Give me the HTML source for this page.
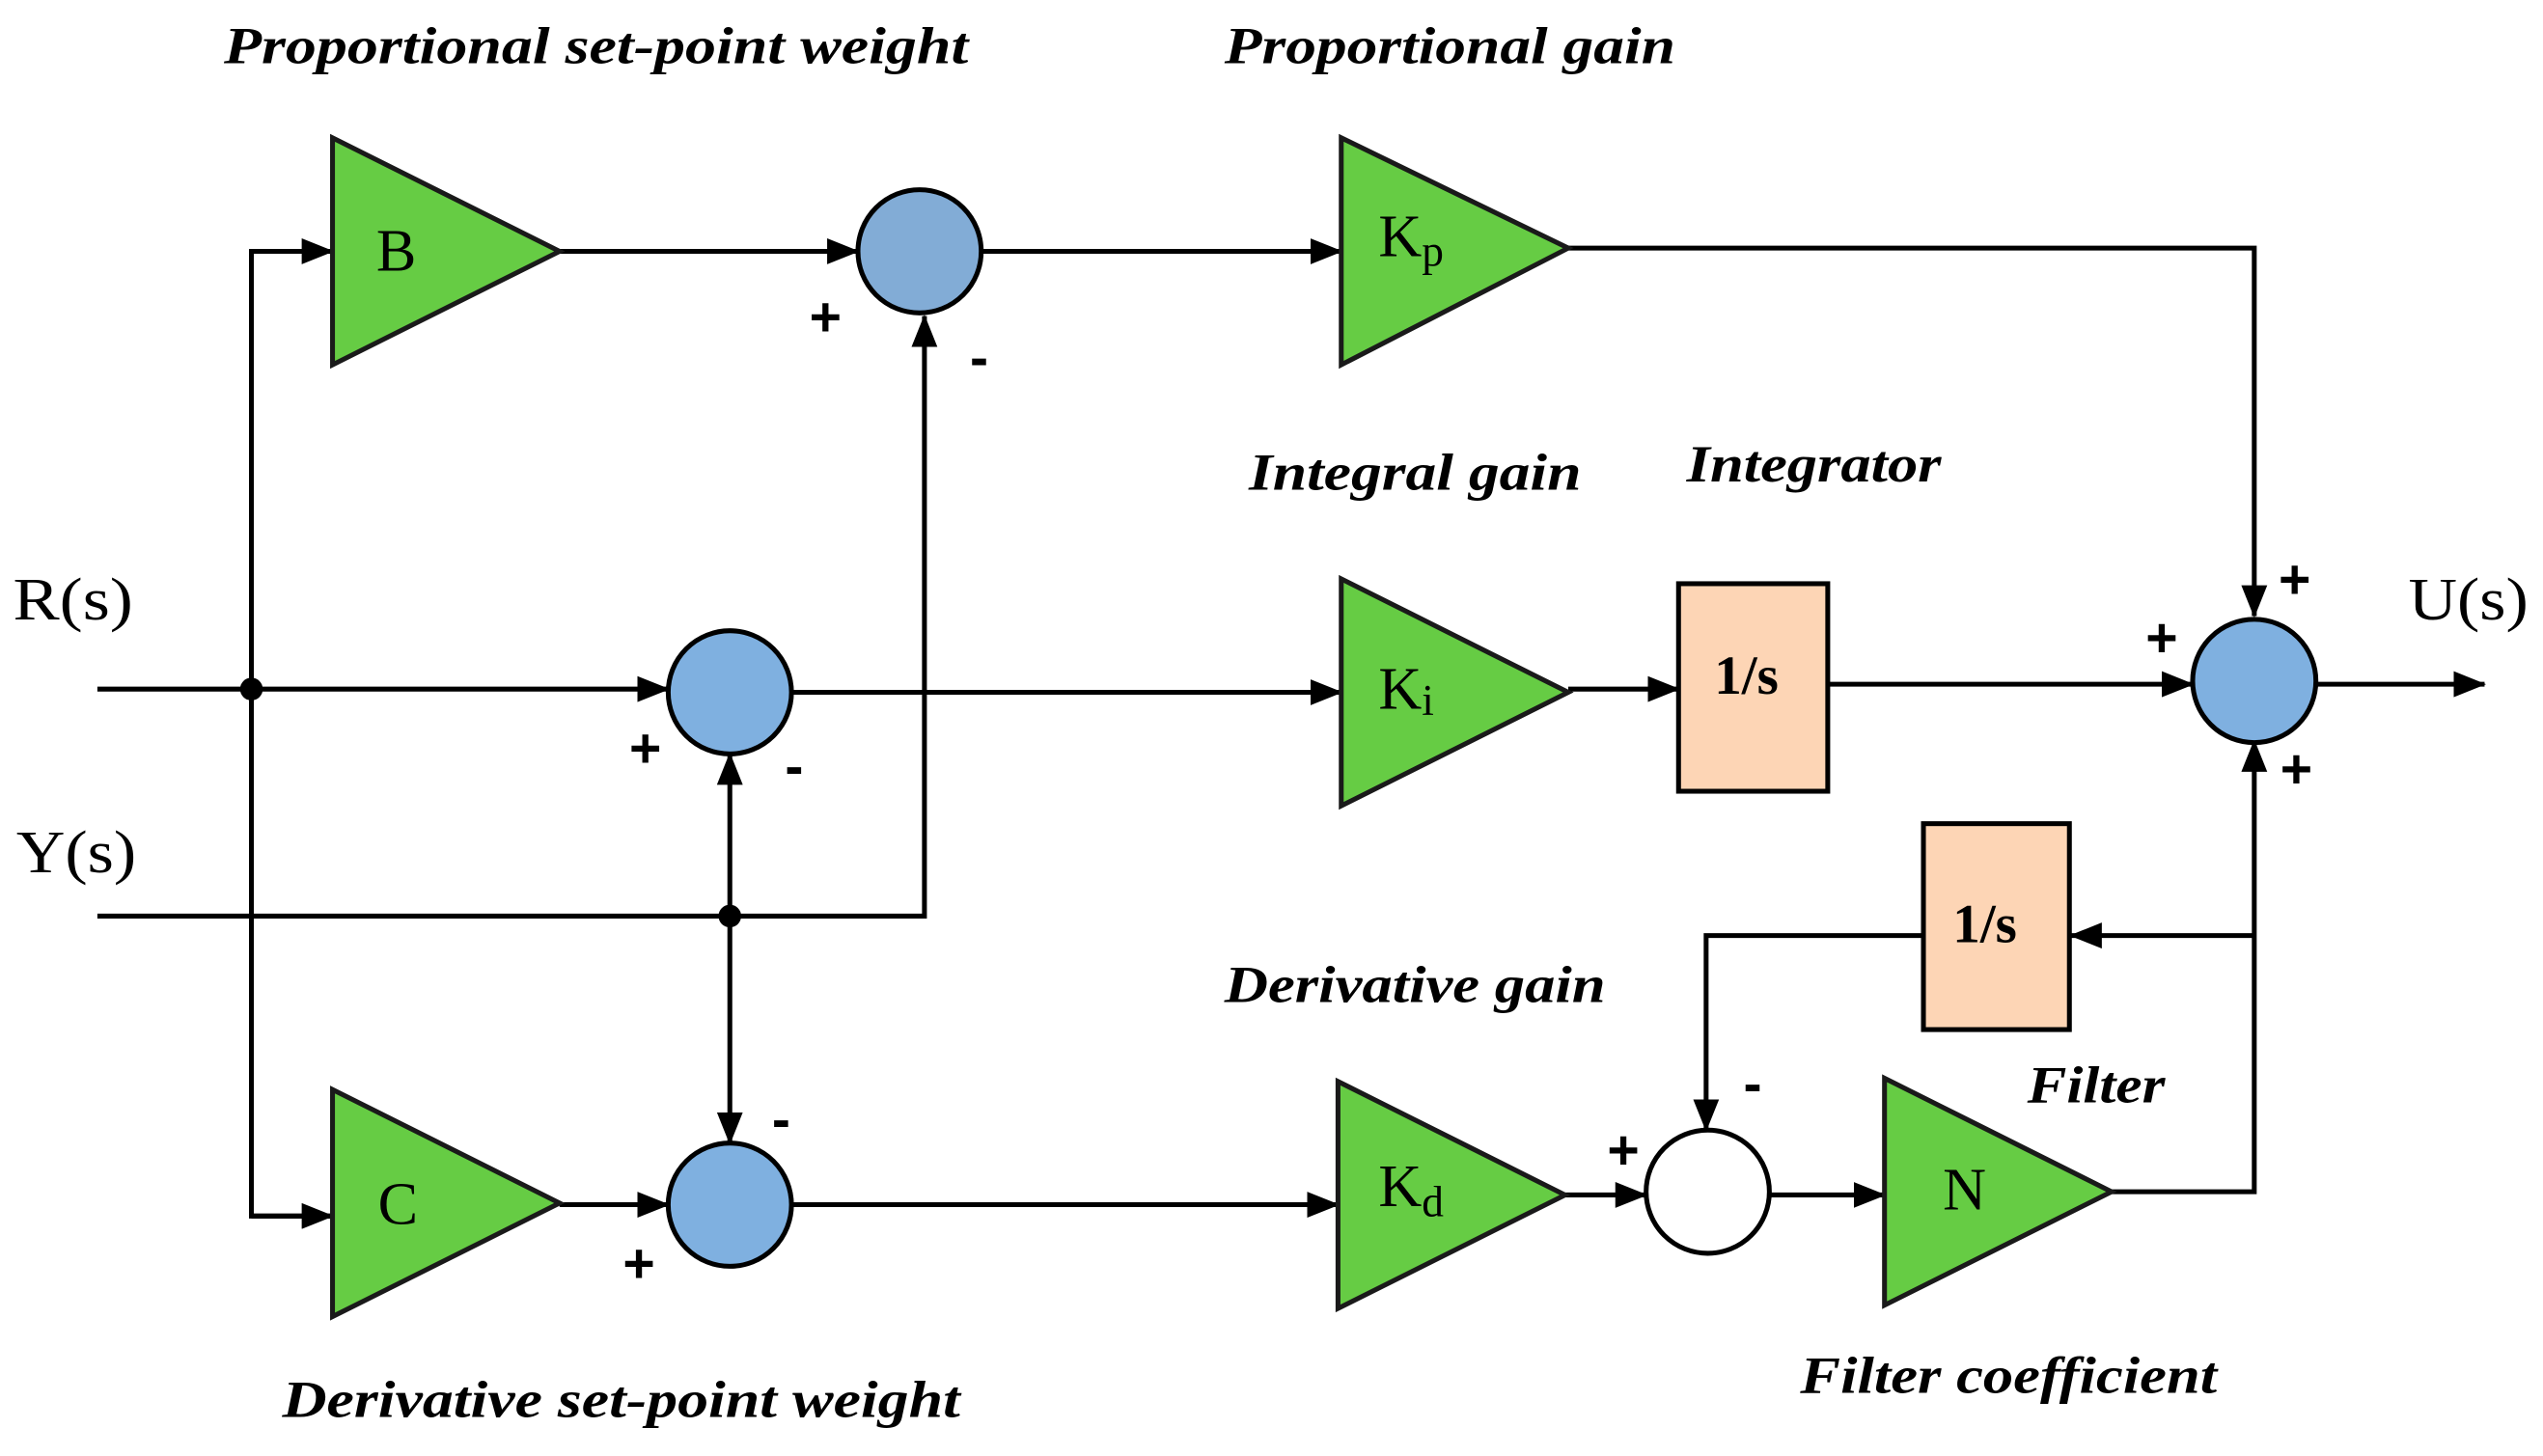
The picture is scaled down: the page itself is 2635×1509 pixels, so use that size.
<!DOCTYPE html>
<html><head><meta charset="utf-8"><style>
html,body{margin:0;padding:0;background:#fff;}
svg{display:block;}
.lbl{font-family:"Liberation Serif",serif;font-style:italic;font-weight:bold;font-size:32px;fill:#000;}
.g{font-family:"Liberation Serif",serif;font-size:37px;fill:#000;}
.s{font-family:"Liberation Sans",sans-serif;font-weight:bold;font-size:34px;fill:#000;}
.b{font-family:"Liberation Serif",serif;font-weight:bold;font-size:34px;fill:#000;}
</style></head><body>
<svg width="2635" height="1509" viewBox="0 0 1568 898" xmlns="http://www.w3.org/2000/svg">
<defs>
<marker id="A" markerWidth="20" markerHeight="16" refX="19" refY="8" orient="auto" markerUnits="userSpaceOnUse" viewBox="0 0 20 16"><path d="M0,0 L20,8 L0,16 z" fill="#000"/></marker></defs>
<g stroke="#000" stroke-width="3" fill="none">
<line x1="60" y1="425" x2="412" y2="425" marker-end="url(#A)"/>
<polyline points="205,155 155,155 155,750 205,750"/>
<line x1="155" y1="155" x2="205" y2="155" marker-end="url(#A)"/>
<line x1="155" y1="750" x2="205" y2="750" marker-end="url(#A)"/>
<polyline points="60,565 570,565 570,195" marker-end="url(#A)"/>
<line x1="450" y1="565" x2="450" y2="465" marker-end="url(#A)"/>
<line x1="450" y1="565" x2="450" y2="705" marker-end="url(#A)"/>
<line x1="345" y1="155" x2="529" y2="155" marker-end="url(#A)"/>
<line x1="605" y1="155" x2="827" y2="155" marker-end="url(#A)"/>
<polyline points="967,153 1390,153 1390,380" marker-end="url(#A)"/>
<line x1="488" y1="427" x2="827" y2="427" marker-end="url(#A)"/>
<line x1="967" y1="425" x2="1035" y2="425" marker-end="url(#A)"/>
<line x1="1127" y1="422" x2="1352" y2="422" marker-end="url(#A)"/>
<line x1="1428" y1="422" x2="1532" y2="422" marker-end="url(#A)"/>
<line x1="345" y1="743" x2="412" y2="743" marker-end="url(#A)"/>
<line x1="488" y1="743" x2="825" y2="743" marker-end="url(#A)"/>
<line x1="965" y1="737" x2="1015" y2="737" marker-end="url(#A)"/>
<line x1="1091" y1="737" x2="1162" y2="737" marker-end="url(#A)"/>
<polyline points="1302,735 1390,735 1390,457" marker-end="url(#A)"/>
<line x1="1390" y1="577" x2="1277" y2="577" marker-end="url(#A)"/>
<polyline points="1186,577 1052,577 1052,697" marker-end="url(#A)"/>
</g>
<g fill="#000"><circle cx="155" cy="425" r="7"/><circle cx="450" cy="565" r="7"/></g>
<g fill="#66cc44" stroke="#1a1a1a" stroke-width="3">
<polygon points="205,85 205,225 345,155"/>
<polygon points="827,85 827,225 967,153"/>
<polygon points="827,357 827,497 967,427"/>
<polygon points="205,672 205,812 345,742"/>
<polygon points="825,667 825,807 965,737"/>
<polygon points="1162,665 1162,805 1302,735"/>
</g>
<g stroke="#000" stroke-width="3">
<circle cx="567" cy="155" r="38" fill="#82acd6"/>
<circle cx="450" cy="427" r="38" fill="#7fb0e0"/>
<circle cx="450" cy="743" r="38" fill="#7fb0e0"/>
<circle cx="1390" cy="420" r="38" fill="#7fb0e0"/>
<circle cx="1053" cy="735" r="38" fill="#fff"/>
<rect x="1035" y="360" width="92" height="128" fill="#fdd5b5"/>
<rect x="1186" y="508" width="90" height="127" fill="#fdd5b5"/>
</g>
<text class="g" x="232" y="167">B</text>
<text class="g" x="233" y="755">C</text>
<text class="g" x="850" y="158">K<tspan font-size="27" dy="6">p</tspan></text>
<text class="g" x="850" y="437">K<tspan font-size="27" dy="4">i</tspan></text>
<text class="g" x="850" y="744">K<tspan font-size="27" dy="6">d</tspan></text>
<text class="g" x="1198" y="746">N</text>
<text class="b" x="1057" y="428">1/s</text>
<text class="b" x="1204" y="581">1/s</text>
<text class="g" x="8" y="382" textLength="74" lengthAdjust="spacingAndGlyphs">R(s)</text>
<text class="g" x="10" y="538" textLength="74" lengthAdjust="spacingAndGlyphs">Y(s)</text>
<text class="g" x="1485" y="382" textLength="74" lengthAdjust="spacingAndGlyphs">U(s)</text>
<text class="lbl" x="138" y="39" textLength="459" lengthAdjust="spacingAndGlyphs">Proportional set-point weight</text>
<text class="lbl" x="755" y="39" textLength="278" lengthAdjust="spacingAndGlyphs">Proportional gain</text>
<text class="lbl" x="770" y="302" textLength="205" lengthAdjust="spacingAndGlyphs">Integral gain</text>
<text class="lbl" x="1040" y="297" textLength="157" lengthAdjust="spacingAndGlyphs">Integrator</text>
<text class="lbl" x="755" y="618" textLength="235" lengthAdjust="spacingAndGlyphs">Derivative gain</text>
<text class="lbl" x="1250" y="680" textLength="85" lengthAdjust="spacingAndGlyphs">Filter</text>
<text class="lbl" x="1110" y="859" textLength="257" lengthAdjust="spacingAndGlyphs">Filter coefficient</text>
<text class="lbl" x="174" y="874" textLength="418" lengthAdjust="spacingAndGlyphs">Derivative set-point weight</text>
<g class="s">
<text x="499" y="207">+</text><text x="598" y="232">-</text>
<text x="388" y="473">+</text><text x="484" y="484">-</text>
<text x="384" y="791">+</text><text x="476" y="702">-</text>
<text x="1323" y="405">+</text><text x="1405" y="369">+</text><text x="1406" y="486">+</text>
<text x="991" y="721">+</text><text x="1075" y="680">-</text>
</g>
</svg>
</body></html>
